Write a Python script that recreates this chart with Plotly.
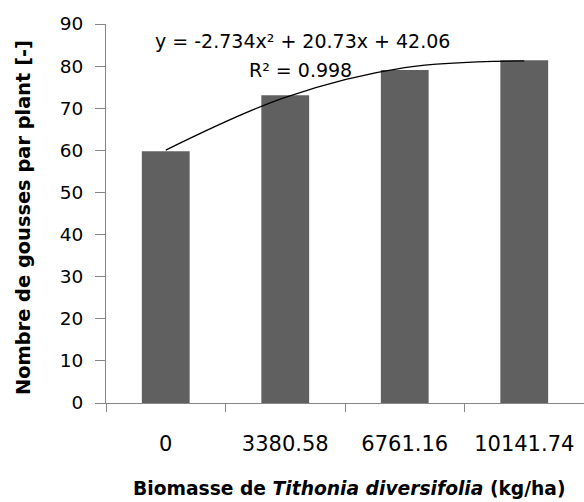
import plotly.graph_objects as go

categories = ["0", "3380.58", "6761.16", "10141.74"]
pods = [59.8, 73.1, 79.1, 81.4]
coef_a, coef_b, coef_c = -2.734, 20.73, 42.06
y_ticks = [0, 10, 20, 30, 40, 50, 60, 70, 80, 90]

trend = [coef_a * (i + 1) ** 2 + coef_b * (i + 1) + coef_c for i in range(len(categories))]

W, H = 584, 502
ml, mr, mt, mb = 106, 0, 24, 99
pw, ph = W - ml - mr, H - mt - mb


def px2paper(xp, yp):
    return (xp - ml) / pw, 1 - (yp - mt) / ph


fig = go.Figure()
fig.add_trace(go.Bar(x=categories, y=pods, marker=dict(color="#606060", line=dict(width=0)),
                     width=0.4, showlegend=False))
fig.add_trace(go.Scatter(x=categories, y=trend, mode="lines",
                         line=dict(color="black", width=1.2, shape="spline", smoothing=1.0),
                         showlegend=False))

common = dict(xref="paper", yref="paper", showarrow=False, xanchor="center", yanchor="middle")

ex, ey = px2paper(302, 41)
fig.add_annotation(text="y = -2.734x² + 20.73x + 42.06", x=ex, y=ey,
                   font=dict(family="DejaVu Sans", size=19, color="black"), **common)
rx, ry = px2paper(300, 70)
fig.add_annotation(text="R² = 0.998", x=rx, y=ry,
                   font=dict(family="DejaVu Sans", size=19, color="black"), **common)

tx, ty = px2paper(349, 488)
fig.add_annotation(text="<b>Biomasse de <i>Tithonia diversifolia</i> (kg/ha)</b>", x=tx, y=ty,
                   font=dict(family="DejaVu Sans", size=18.7, color="black"), **common)
vx, vy = px2paper(23, 218)
fig.add_annotation(text="<b>Nombre de gousses par plant [-]</b>", x=vx, y=vy, textangle=-90,
                   font=dict(family="DejaVu Sans", size=19.4, color="black"), **common)

fig.update_layout(
    width=W, height=H,
    margin=dict(l=ml, r=mr, t=mt, b=mb, autoexpand=False),
    plot_bgcolor="white", paper_bgcolor="white",
    font=dict(family="DejaVu Sans", color="black"),
)
fig.update_xaxes(
    type="category", tickson="boundaries", ticks="outside", ticklen=8, tickcolor="#868686",
    showline=True, linecolor="#868686", linewidth=1, showgrid=False, automargin=False,
    tickfont=dict(size=21, family="DejaVu Sans"), ticklabelstandoff=22,
    range=[-0.5, 3.5],
)
fig.update_yaxes(
    range=[0, 90], tickvals=y_ticks, ticks="outside", ticklen=10, tickcolor="#868686",
    showline=True, linecolor="#868686", linewidth=1, showgrid=False, zeroline=False,
    automargin=False,
    tickfont=dict(size=18.5, family="DejaVu Sans"), ticklabelstandoff=8,
)

fig.write_html("out.html", config={"displayModeBar": False},
               post_script="document.body.style.margin='0';")
